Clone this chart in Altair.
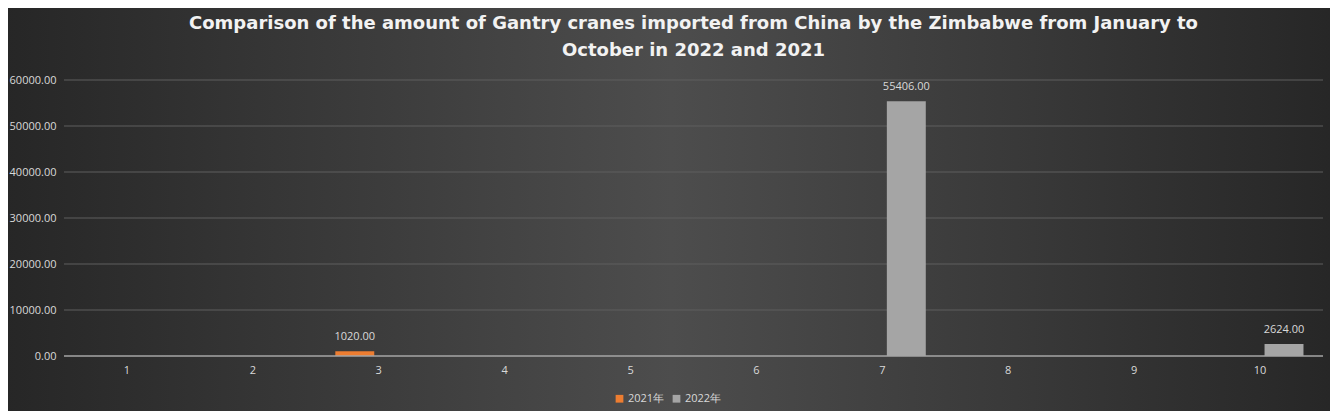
import altair as alt
import pandas as pd

months = [1, 2, 3, 4, 5, 6, 7, 8, 9, 10]
values_2021 = [None, None, 1020.0, None, None, None, None, None, None, None]
values_2022 = [None, None, None, None, None, None, 55406.0, None, None, 2624.0]
series = ["2021年", "2022年"]
colors = ["#ED7D31", "#A5A5A5"]
grid_values = [10000, 20000, 30000, 40000, 50000, 60000]

rows = []
for m, v in zip(months, values_2021):
    rows.append({"month": m, "series": series[0], "value": v})
for m, v in zip(months, values_2022):
    rows.append({"month": m, "series": series[1], "value": v})
df = pd.DataFrame(rows)

W, H = 1259, 276
FONT = "Open Sans"

x_scale = alt.Scale(domain=months, paddingInner=0.31, paddingOuter=0.155)
xo_scale = alt.Scale(domain=series, paddingInner=0.1875, paddingOuter=0)
y_scale = alt.Scale(domain=[0, 60000], nice=False)

y_axis = alt.Axis(title=None, values=[0] + grid_values, format=".2f",
                  grid=False, ticks=False, domain=False,
                  labelColor="#d9d9d9", labelFontSize=11, labelFont=FONT,
                  labelPadding=8, zindex=1)

bg = alt.Chart(pd.DataFrame({"a": [0]})).mark_rect(
    color=alt.LinearGradient(
        gradient="linear", x1=0, x2=1, y1=0, y2=0,
        stops=[alt.GradientStop(color="#262626", offset=0),
               alt.GradientStop(color="#4d4d4d", offset=0.5),
               alt.GradientStop(color="#262626", offset=1)]
    )
).encode(x=alt.value(-64), x2=alt.value(W + 20), y=alt.value(-80), y2=alt.value(H + 70))

grid = alt.Chart(pd.DataFrame({"g": grid_values})).mark_rule(
    color="#5e5e5e", strokeWidth=1
).encode(y=alt.Y("g:Q", scale=y_scale, axis=y_axis))

bars = alt.Chart(df).mark_bar().encode(
    x=alt.X("month:O", scale=x_scale, sort=months,
            axis=alt.Axis(title=None, labelAngle=0, ticks=False, domain=False,
                          labelColor="#d9d9d9", labelFontSize=11, labelFont=FONT,
                          labelPadding=8, zindex=1)),
    xOffset=alt.XOffset("series:N", scale=xo_scale, sort=series),
    y=alt.Y("value:Q", scale=y_scale, axis=y_axis),
    color=alt.Color("series:N", scale=alt.Scale(domain=series, range=colors),
                    legend=alt.Legend(title=None, orient="none", direction="horizontal",
                                      legendX=550, legendY=313, symbolType="square",
                                      symbolSize=60, symbolStrokeWidth=0,
                                      labelColor="#d9d9d9", labelFontSize=11,
                                      labelFont=FONT, columnPadding=6, labelOffset=3,
                                      zindex=1)),
)

labels = alt.Chart(df).mark_text(
    dy=-9, baseline="bottom", color="#d9d9d9", fontSize=11, font=FONT
).encode(
    x=alt.X("month:O", scale=x_scale, sort=months),
    xOffset=alt.XOffset("series:N", scale=xo_scale, sort=series),
    y=alt.Y("value:Q", scale=y_scale, axis=y_axis),
    text=alt.Text("value:Q", format=".2f"),
)

zero = alt.Chart(pd.DataFrame({"z": [0]})).mark_rule(
    color="#a6a6a6", strokeWidth=1.5
).encode(y=alt.Y("z:Q", scale=y_scale, axis=y_axis))

chart = alt.layer(bg, grid, bars, labels, zero).properties(
    width=W, height=H,
    title=alt.Title(
        ["Comparison of the amount of Gantry cranes imported from China by the Zimbabwe from January to",
         "October in 2022 and 2021"],
        fontSize=18, font="DejaVu Sans", fontWeight="bold", color="#f2f2f2",
        anchor="middle", frame="group", offset=24, lineHeight=27, zindex=1,
        dy=84,
    ),
    padding={"left": 56, "top": 72, "right": 7, "bottom": 55},
    autosize=alt.AutoSizeParams(type="none"),
    background="#333333",
).configure_view(stroke=None).configure_axis(labelFont=FONT)

chart.save("out.html", embed_options={"renderer": "svg", "actions": False})
